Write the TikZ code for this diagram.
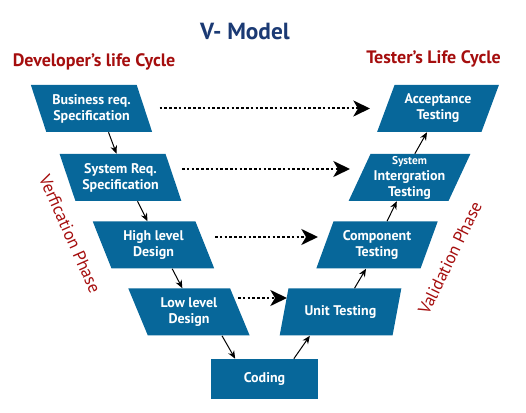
\documentclass[tikz,border=0pt]{standalone}
\usepackage{fontspec}
\setmainfont{PT Sans}
\usetikzlibrary{arrows.meta,shapes.geometric,calc}

\definecolor{vblue}{HTML}{07679A}
\definecolor{vnavy}{HTML}{1B3A74}
\definecolor{vred}{HTML}{A50E0E}

\begin{document}
\begin{tikzpicture}[x=0.75pt, y=-0.75pt,
      devbox/.style={trapezium, trapezium left angle=115, trapezium right angle=65,
        trapezium stretches, fill=vblue, text=white, align=center, inner sep=0pt,
        minimum width=91.5pt, minimum height=35.25pt,
        font=\bfseries\fontsize{10.5}{12}\selectfont},
      tstbox/.style={devbox, trapezium left angle=65, trapezium right angle=115},
      codebox/.style={rectangle, fill=vblue, text=white, inner sep=0pt,
        minimum width=80.25pt, minimum height=30pt,
        font=\bfseries\fontsize{10.5}{12}\selectfont},
      heading/.style={text=vred, font=\bfseries\fontsize{13.5}{16}\selectfont},
      phase/.style={text=vred, font=\fontsize{13}{15}\selectfont},
      arr/.style={line width=0.75pt, -{Stealth[length=6pt, width=5pt]}},
      darr/.style={line width=1.5pt, dash pattern=on 2pt off 1.6pt,
        -{Stealth[length=12.5pt, width=12pt, inset=3.5pt]}}
    ]
    \useasboundingbox (0,0) rectangle (526,413);

    % --- titles ---
    \node[text=vnavy, font=\bfseries\fontsize{17.5}{21}\selectfont] (ttl) at (245,32) {V- Model};
    \node[heading] (dev) at (94,62) {Developer’s life Cycle};
    \node[heading] (tst) at (433.5,59) {Tester’s Life Cycle};
    \node[phase, rotate=-66] (ver) at (70,234) {Verfication Phase};
    \node[phase, rotate=64] (val) at (450,258) {Validation Phase};

    % --- developer side ---
    \node[devbox] (brs) at (91.5,108.5) {Business req.\\Specification};
    \node[devbox] (srs) at (120.5,177.5) {System Req.\\Specification};
    \node[devbox] (hld) at (153.5,245) {High level\\Design};
    \node[devbox] (lld) at (189,312) {Low level\\Design};
    \node[codebox] (cod) at (264.5,379) {Coding};

    % --- tester side ---
    \node[tstbox] (ut) at (340.5,312) {Unit Testing};
    \node[tstbox] (ct) at (377,245) {Component\\Testing};
    \node[tstbox] (sit) at (409.5,177.5) {{\fontsize{8.5}{10}\selectfont System}\\Intergration\\Testing};
    \node[tstbox] (at) at (438,108.5) {Acceptance\\Testing};

    \draw[arr] ([xshift=12.75pt]brs.south) -- ([xshift=-3pt]srs.north);
    \draw[arr] ([xshift=12.75pt]srs.south) -- ([xshift=-4.5pt]hld.north);
    \draw[arr] ([xshift=14pt]hld.south) -- ([xshift=-5pt]lld.north);
    \draw[arr] ([xshift=24.75pt]lld.south) -- ([xshift=-22pt]cod.north);
    \draw[arr] ([xshift=22pt]cod.north) -- ([xshift=-23pt]ut.south);
    \draw[arr] ([xshift=10.5pt]ut.north) -- ([xshift=-8.25pt]ct.south);
    \draw[arr] ([xshift=7.5pt]ct.north) -- ([xshift=-9.5pt]sit.south);
    \draw[arr] ([xshift=4pt]sit.north) -- ([xshift=-8.25pt]at.south);

    % --- verification links ---
    \draw[darr] ($(brs.center)+(68,0)$) -- ($(at.center)+(-68,0)$);
    \draw[darr] ($(srs.center)+(61.5,-8.5)$) -- ($(sit.center)+(-59.5,-8.5)$);
    \draw[darr] ($(hld.center)+(61.5,-8)$) -- ($(ct.center)+(-59,-8)$);
    \draw[darr] ($(lld.center)+(49,-14)$) -- ($(ut.center)+(-53.5,-14)$);
  \end{tikzpicture}
\end{document}
